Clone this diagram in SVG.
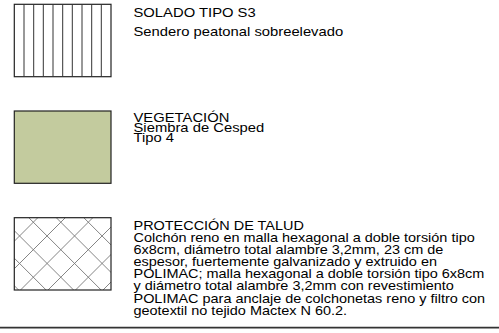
<svg xmlns="http://www.w3.org/2000/svg" width="499" height="333" viewBox="0 0 499 333">
  <style>
    .t { font-family: "Liberation Sans", Arial, sans-serif; font-size: 12.8px; fill: #000; }
    .box { stroke: #222; stroke-width: 1.2; }
    .vl { stroke: #333; stroke-width: 1; }
    .hatch { stroke: #777; stroke-width: 0.9; }
  </style>
  <defs>
    <clipPath id="c3"><rect x="14.3" y="217.7" width="96.7" height="72.3"/></clipPath>
  </defs>
  <rect width="499" height="333" fill="#fff"/>

  <g id="legend-solado">
    <rect x="14.3" y="4.3" width="96.7" height="72.4" fill="#fff" class="box"/>
    <g class="vl">
      <line x1="24.0" y1="4.3" x2="24.0" y2="76.7"/>
      <line x1="33.7" y1="4.3" x2="33.7" y2="76.7"/>
      <line x1="43.3" y1="4.3" x2="43.3" y2="76.7"/>
      <line x1="53.0" y1="4.3" x2="53.0" y2="76.7"/>
      <line x1="62.7" y1="4.3" x2="62.7" y2="76.7"/>
      <line x1="72.3" y1="4.3" x2="72.3" y2="76.7"/>
      <line x1="82.0" y1="4.3" x2="82.0" y2="76.7"/>
      <line x1="91.7" y1="4.3" x2="91.7" y2="76.7"/>
      <line x1="101.3" y1="4.3" x2="101.3" y2="76.7"/>
    </g>
    <g transform="translate(133.5,0) scale(1.156,1)">
      <text class="t" x="0" y="16.7">SOLADO TIPO S3</text>
      <text class="t" x="0" y="35.7">Sendero peatonal sobreelevado</text>
    </g>
  </g>

  <g id="legend-vegetacion">
    <rect x="14.3" y="111" width="96.7" height="72.3" fill="#c3cb9e" class="box"/>
    <g transform="translate(133.5,0) scale(1.156,1)">
      <text class="t" x="0" y="122.5">VEGETACIÓN</text>
      <text class="t" x="0" y="132.4">Siembra de Cesped</text>
      <text class="t" x="0" y="142.3">Tipo 4</text>
    </g>
  </g>

  <g id="legend-talud">
    <rect x="14.3" y="217.7" width="96.7" height="72.3" fill="#fff"/>
    <g clip-path="url(#c3)" class="hatch">
      <line x1="-61.4" y1="210" x2="28.6" y2="300"/>
      <line x1="-33.9" y1="210" x2="56.1" y2="300"/>
      <line x1="-6.4" y1="210" x2="83.6" y2="300"/>
      <line x1="21.1" y1="210" x2="111.1" y2="300"/>
      <line x1="48.6" y1="210" x2="138.6" y2="300"/>
      <line x1="76.1" y1="210" x2="166.1" y2="300"/>
      <line x1="103.6" y1="210" x2="193.6" y2="300"/>
      <line x1="18" y1="210" x2="-72" y2="300"/>
      <line x1="45.5" y1="210" x2="-44.5" y2="300"/>
      <line x1="73" y1="210" x2="-17" y2="300"/>
      <line x1="100.5" y1="210" x2="10.5" y2="300"/>
      <line x1="128" y1="210" x2="38" y2="300"/>
      <line x1="155.5" y1="210" x2="65.5" y2="300"/>
      <line x1="183" y1="210" x2="93" y2="300"/>
      <line x1="210.5" y1="210" x2="120.5" y2="300"/>
    </g>
    <rect x="14.3" y="217.7" width="96.7" height="72.3" fill="none" class="box"/>
    <g transform="translate(133.5,0) scale(1.129,1)">
      <text class="t" x="0" y="230">PROTECCIÓN DE TALUD</text>
      <text class="t" x="0" y="242.1">Colchón reno en malla hexagonal a doble torsión tipo</text>
      <text class="t" x="0" y="254.2">6x8cm, diámetro total alambre 3,2mm, 23 cm de</text>
      <text class="t" x="0" y="266.3">espesor, fuertemente galvanizado y extruido en</text>
      <text class="t" x="0" y="278.4">POLIMAC; malla hexagonal a doble torsión tipo 6x8cm</text>
      <text class="t" x="0" y="290.5">y diámetro total alambre 3,2mm con revestimiento</text>
      <text class="t" x="0" y="302.6">POLIMAC para anclaje de colchonetas reno y filtro con</text>
      <text class="t" x="0" y="314.7">geotextil no tejido Mactex N 60.2.</text>
    </g>
  </g>

  <g id="connectors">
    <line x1="0" y1="327.6" x2="499" y2="327.6" stroke="#333" stroke-width="1.6"/>
  </g>
</svg>
